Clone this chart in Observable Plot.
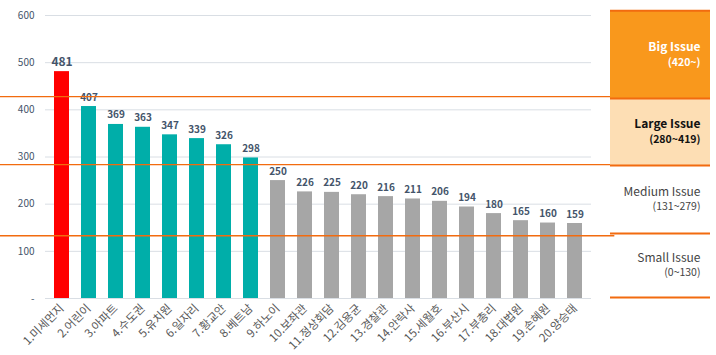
<!DOCTYPE html>
<html><head><meta charset="utf-8">
<script src="https://cdn.jsdelivr.net/npm/d3@7"></script>
<script src="https://cdn.jsdelivr.net/npm/@observablehq/plot@0.6"></script>
<style>
body{margin:0;background:#fff;}
#wrap{position:relative;width:716px;height:355px;}
#wrap svg{position:absolute;top:0;}
</style>
</head><body><div id="wrap"></div>
<script>
const categories = ["1.미세먼지","2.어린이","3.아파트","4.수도권","5.유치원","6.일자리","7.황교안","8.베트남","9.하노이","10.보좌관","11.정상회담","12.김용균","13.경찰관","14.안락사","15.세월호","16.부산시","17.부총리","18.대법원","19.손혜원","20.양승태"];
const values = [481,407,369,363,347,339,326,298,250,226,225,220,216,211,206,194,180,165,160,159];
const groups = ["big","large","large","large","large","large","large","large","medium","medium","medium","medium","medium","medium","medium","medium","medium","medium","medium","medium"];
const yTicks = [0,100,200,300,400,500,600];
const thresholdLines = [428,284,133];
const panelNames = ["Big Issue","Large Issue","Medium Issue","Small Issue"];
const panelRanges = ["(420~)","(280~419)","(131~279)","(0~130)"];
const panelLo = [424,282,138,2];
const panelHi = [610,424,282,138];

const data = categories.map((c,i)=>({cat:c, v:values[i], g:groups[i]}));
const panel = panelNames.map((n,i)=>({name:n, range:panelRanges[i], lo:panelLo[i], hi:panelHi[i], mid:(panelLo[i]+panelHi[i])/2, k:i}));

const font = "'Noto Sans CJK KR', 'Noto Sans', sans-serif";
const wrap = document.getElementById("wrap");

const main = Plot.plot({
  width:716, height:355,
  marginTop:15, marginBottom:57, marginLeft:45, marginRight:125,
  style:{fontFamily:font, fontSize:"10px", color:"#595959", background:"transparent"},
  x:{domain:categories, paddingInner:0.45, paddingOuter:0.225, label:null},
  y:{domain:[0,600], label:null},
  color:{domain:["big","large","medium"], range:["#FF0000","#00AEA9","#A6A6A6"]},
  marks:[
    Plot.ruleY(yTicks,{stroke:"#D9DEE4", strokeWidth:1}),
    Plot.axisY(yTicks,{tickSize:0, tickPadding:11, tickFormat:d=>d===0?"-":String(d), fill:"#44546A", fontSize:10}),
    Plot.barY(data,{x:"cat", y:"v", fill:"g"}),
    Plot.text(data,{x:"cat", y:"v", text:d=>String(d.v), lineAnchor:"bottom", dy:-6, fontWeight:"bold", fill:"#44546A", fontSize:d=>d.v===481?12:10}),
    Plot.axisX({tickSize:0, tickPadding:8, tickRotate:-45, fill:"#595959", fontSize:11.5, label:null})
  ]
});
main.style.left="0px";
wrap.appendChild(main);

// threshold lines spanning from the left edge to the side panel
const lines = Plot.plot({
  width:716, height:355,
  marginTop:15, marginBottom:57, marginLeft:0, marginRight:0,
  style:{background:"transparent"},
  x:{domain:[0,1], axis:null},
  y:{domain:[0,600], axis:null},
  marks:[
    Plot.ruleY(thresholdLines,{x1:0, x2:0.858, stroke:"#F26B0F", strokeWidth:1.3})
  ]
});
lines.style.left="0px";
wrap.appendChild(lines);

const colorFor = d=>d.k===0?"#ffffff":(d.k===1?"#111111":"#444444");
const strong = panel.filter(d=>d.k<2), weak = panel.filter(d=>d.k>=2);
const side = Plot.plot({
  width:116, height:355,
  marginTop:15, marginBottom:57, marginLeft:10, marginRight:6,
  style:{fontFamily:font, background:"transparent"},
  x:{domain:[0,1], axis:null},
  y:{domain:[0,600], axis:null},
  marks:[
    Plot.rect(strong,{x1:0, x2:1, y1:"lo", y2:"hi", fill:d=>d.k===0?"#F9981C":"#FDDEB4"}),
    Plot.ruleY(panel,{y:"lo", x1:0, x2:1, stroke:"#F26B0F", strokeWidth:2}),
    Plot.ruleY([panel[0]],{y:"hi", x1:0, x2:1, stroke:"#F26B0F", strokeWidth:2}),
    Plot.text(strong,{x:1, y:"mid", text:"name", textAnchor:"end", dx:-10, dy:-7.5, fontSize:12, fontWeight:"bold", fill:colorFor}),
    Plot.text(strong,{x:1, y:"mid", text:"range", textAnchor:"end", dx:-10, dy:7.5, fontSize:10.5, fontWeight:"bold", fill:colorFor}),
    Plot.text(weak,{x:1, y:"mid", text:"name", textAnchor:"end", dx:-10, dy:-7.5, fontSize:12, fill:colorFor}),
    Plot.text(weak,{x:1, y:"mid", text:"range", textAnchor:"end", dx:-10, dy:7.5, fontSize:10.5, fill:colorFor})
  ]
});
side.style.left="600px";
wrap.appendChild(side);
</script>
</body></html>
